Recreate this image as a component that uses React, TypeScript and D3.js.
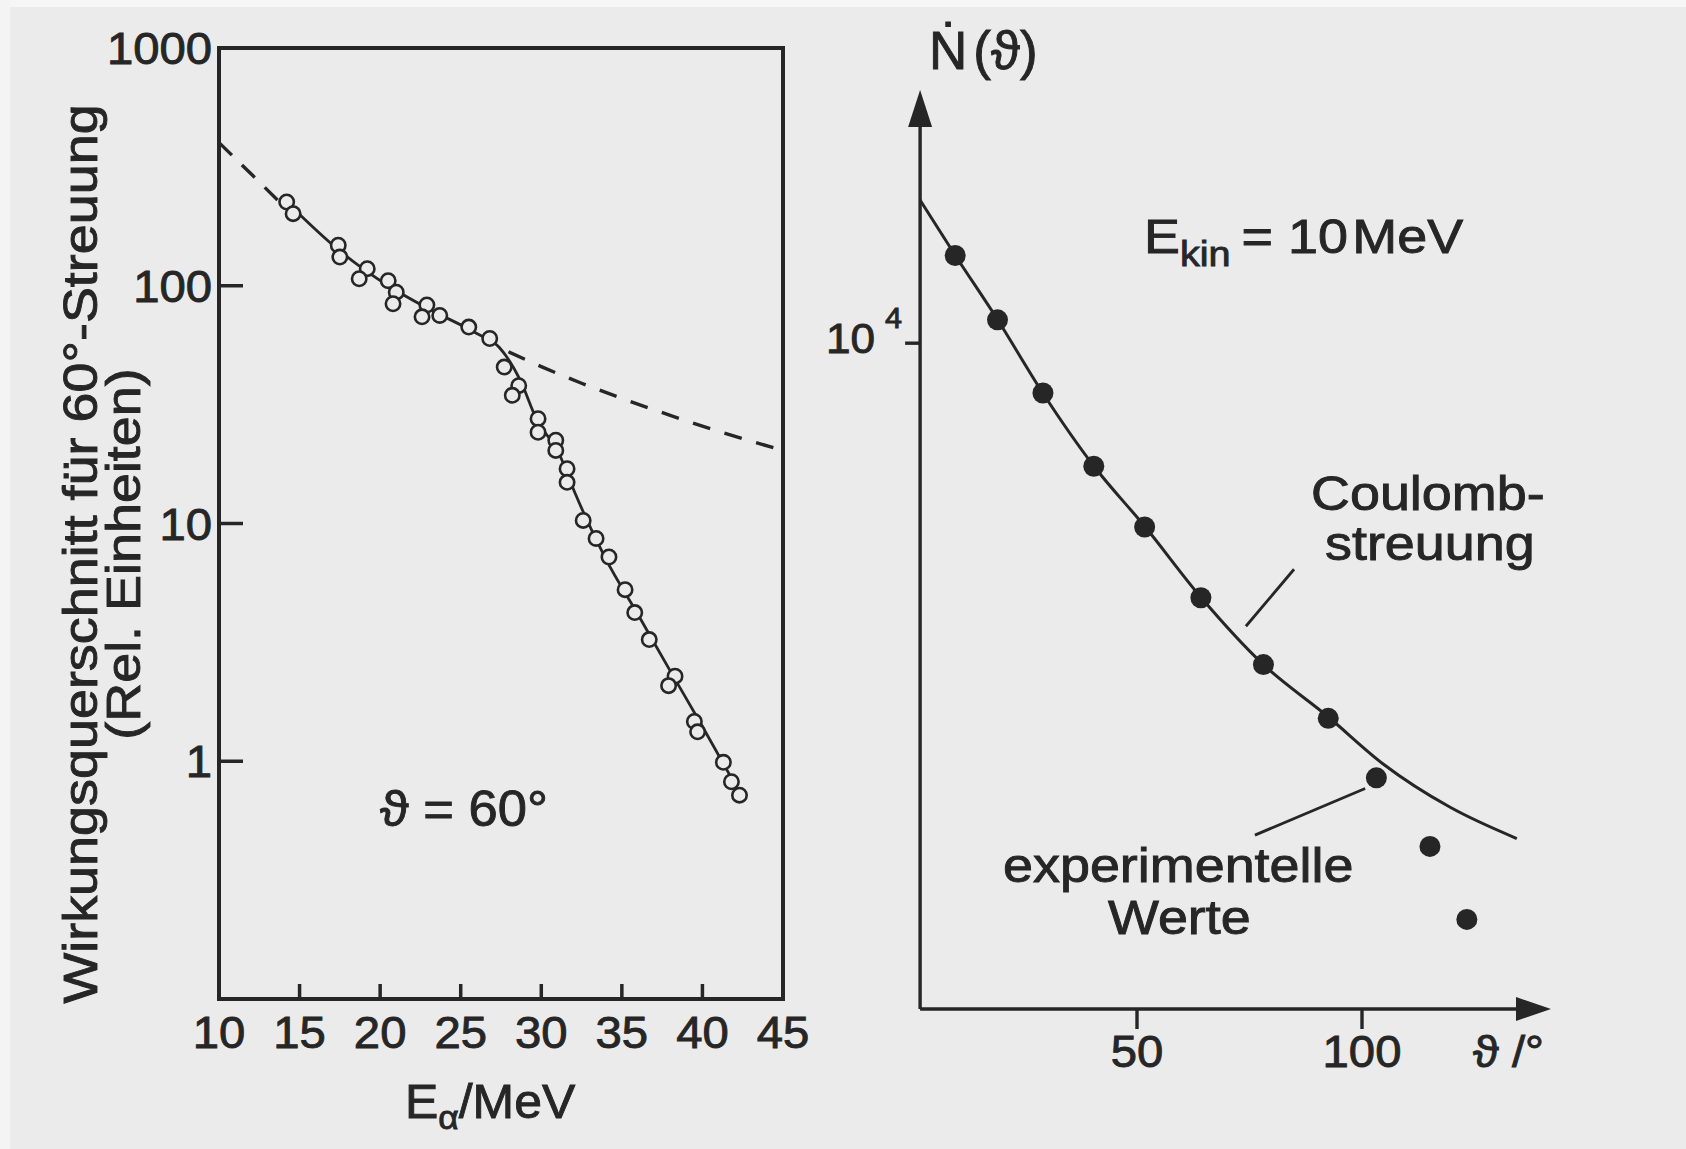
import React from "react";
import * as d3 from "d3";

// ---- Left panel: 60° alpha scattering cross-section vs. alpha energy ----
const energyMeV = [14.2, 14.6, 17.4, 17.5, 19.2, 18.7, 20.5, 21.0, 20.8, 22.9, 22.6, 23.7, 25.5, 26.8, 27.7, 28.6, 28.2, 29.8, 29.8, 30.9, 30.9, 31.6, 31.6, 32.6, 33.4, 34.2, 35.2, 35.8, 36.7, 38.3, 37.9, 39.5, 39.7, 41.3, 41.8, 42.3];
const crossSection = [225, 201, 148, 132, 118, 107, 105, 94, 84, 83, 74, 75, 67, 60, 45.5, 38, 34.6, 27.6, 24.2, 22.4, 20.3, 17.0, 14.9, 10.3, 8.65, 7.23, 5.27, 4.22, 3.25, 2.28, 2.08, 1.47, 1.33, 0.99, 0.82, 0.72];

// solid line drawn through the measurements
const fitEnergy = [14.2, 17.5, 20.5, 23, 26, 27.4, 28.7, 29.7, 31.1, 32.1, 34, 36, 38, 40, 42.4];
const fitSigma = [225, 140, 100, 80, 63, 55, 40, 27.5, 19.7, 13.4, 7.1, 4.14, 2.4, 1.4, 0.72];

// dashed Rutherford expectation (two visible pieces)
const rutherLowE = [10, 12, 14.2];
const rutherLowS = [400, 295, 210];
const rutherHighE = [27.4, 30, 32.5, 35, 38, 41, 45];
const rutherHighS = [55, 45.7, 38.9, 33.6, 28.5, 24.4, 20.3];

const energyTicks = [10, 15, 20, 25, 30, 35, 40, 45];
const sigmaTicks = [1, 10, 100, 1000];
const sigmaTickLabels = ["1", "10", "100", "1000"];

// ---- Right panel: count rate vs. scattering angle at 10 MeV ----
const thetaDeg = [9.6, 19.0, 29.1, 40.4, 51.7, 64.2, 78.1, 92.5, 103.2, 115.1, 123.3];
const countRate = [27200, 13060, 5660, 2455, 1227, 547, 255, 138, 70, 32, 13.9];

const coulombTheta = [1.8, 9.6, 19.1, 29.1, 40.4, 51.8, 64.2, 78.0, 92.4, 104.7, 119.6, 134.4];
const coulombN = [51200, 27300, 13000, 5650, 2460, 1230, 550, 256, 141, 82, 50, 35];

const thetaTicks = [50, 100];
const countTicks = [1e4];

const INK = "#262626";
const PAPER = "#ebebeb";
const FONT = "'Liberation Sans', Arial, Helvetica, sans-serif";

type TxtProps = {
  x: number;
  y: number;
  size: number;
  anchor?: "start" | "middle" | "end";
  sx?: number;
  rotate?: number;
  children: React.ReactNode;
};

function Txt({ x, y, size, anchor = "start", sx = 1.1, rotate = 0, children }: TxtProps) {
  return (
    <g transform={`translate(${x},${y}) rotate(${rotate}) scale(${sx},1)`}>
      <text
        fontSize={size}
        textAnchor={anchor}
        fill={INK}
        stroke={INK}
        strokeWidth={0.9}
        fontFamily={FONT}
      >
        {children}
      </text>
    </g>
  );
}

export default function App() {
  // left panel scales
  const xE = d3.scaleLinear().domain([10, 45]).range([219, 783]);
  const yS = d3.scaleLog().domain([0.1, 1000]).range([999, 48]);

  // right panel scales
  const xT = d3.scaleLinear().domain([0, 142]).range([912, 1551]);
  const yN = d3.scaleLog().domain([5, 1.8e5]).range([1009, 90]);
  const thetaOrigin = coulombTheta[0];

  const lineL = d3
    .line<[number, number]>()
    .x((d) => xE(d[0]))
    .y((d) => yS(d[1]))
    .curve(d3.curveMonotoneX);
  const lineR = d3
    .line<[number, number]>()
    .x((d) => xT(d[0]))
    .y((d) => yN(d[1]))
    .curve(d3.curveMonotoneX);

  const fitPath = lineL(d3.zip(fitEnergy, fitSigma) as [number, number][]);
  const dashLow = lineL(d3.zip(rutherLowE, rutherLowS) as [number, number][]);
  const dashHigh = lineL(d3.zip(rutherHighE, rutherHighS) as [number, number][]);
  const coulombPath = lineR(d3.zip(coulombTheta, coulombN) as [number, number][]);

  const [eMin, eMax] = xE.domain();
  const [sMin, sMax] = yS.domain();
  const boxX = xE(eMin);
  const boxY = yS(sMax);
  const boxW = xE(eMax) - boxX;
  const boxH = yS(sMin) - boxY;

  const axX = xT(thetaOrigin);
  const axY = yN(yN.domain()[0]);
  const arrowTopY = yN(yN.domain()[1]);
  const arrowRightX = xT(xT.domain()[1]);

  // annotation leader lines, anchored in data coordinates
  const coulombLeader = [
    [84.9, 757],
    [74.2, 395],
  ];
  const expLeader = [
    [100.7, 62],
    [76.2, 36.4],
  ];

  return (
    <svg
      width={1686}
      height={1149}
      style={{ position: "absolute", left: 0, top: 0, display: "block" }}
    >
      <rect x={0} y={0} width={1686} height={1149} fill={PAPER} />
      <rect x={0} y={0} width={1686} height={7} fill="#f6f6f6" />
      <rect x={0} y={0} width={10} height={1149} fill="#f4f4f4" />

      {/* ===== left panel ===== */}
      <rect x={boxX} y={boxY} width={boxW} height={boxH} fill="none" stroke={INK} strokeWidth={4} />

      {sigmaTicks.map((v, i) => (
        <g key={`ys${v}`}>
          {v !== sMax && (
            <line x1={boxX} x2={boxX + 24} y1={yS(v)} y2={yS(v)} stroke={INK} strokeWidth={3.5} />
          )}
          <Txt x={212} y={yS(v) + 16} size={45} anchor="end" sx={1.05}>
            {sigmaTickLabels[i]}
          </Txt>
        </g>
      ))}

      {energyTicks.map((v) => (
        <g key={`xe${v}`}>
          {v !== eMin && v !== eMax && (
            <line x1={xE(v)} x2={xE(v)} y1={boxY + boxH} y2={boxY + boxH - 15} stroke={INK} strokeWidth={3.5} />
          )}
          <Txt x={xE(v)} y={1048} size={45} anchor="middle" sx={1.05}>
            {String(v)}
          </Txt>
        </g>
      ))}

      <path d={dashLow ?? ""} fill="none" stroke={INK} strokeWidth={3.4} strokeDasharray="18 14" />
      <path d={dashHigh ?? ""} fill="none" stroke={INK} strokeWidth={3.4} strokeDasharray="18 15" strokeDashoffset={-10} />
      <path d={fitPath ?? ""} fill="none" stroke={INK} strokeWidth={2.8} />

      {energyMeV.map((e, i) => (
        <circle key={`c${i}`} cx={xE(e)} cy={yS(crossSection[i])} r={7.2} fill={PAPER} stroke={INK} strokeWidth={2.6} />
      ))}

      <Txt x={380} y={826} size={50} sx={1.05}>
        ϑ = 60°
      </Txt>

      <Txt x={97} y={554} size={49} anchor="middle" rotate={-90} sx={1.1}>
        Wirkungsquerschnitt für 60°-Streuung
      </Txt>
      <Txt x={140} y={554} size={49} anchor="middle" rotate={-90} sx={1.1}>
        (Rel. Einheiten)
      </Txt>

      <Txt x={405} y={1118} size={48} sx={1.04}>
        E
        <tspan fontSize={34} dy={11}>α</tspan>
        <tspan dy={-11}>/MeV</tspan>
      </Txt>

      {/* ===== right panel ===== */}
      <line x1={axX} x2={axX} y1={axY} y2={arrowTopY + 30} stroke={INK} strokeWidth={3.4} />
      <path
        d={`M${axX},${arrowTopY} L${axX - 12},${arrowTopY + 37} L${axX + 12},${arrowTopY + 37} Z`}
        fill={INK}
      />
      <line x1={axX} x2={arrowRightX - 28} y1={axY} y2={axY} stroke={INK} strokeWidth={3.4} />
      <path
        d={`M${arrowRightX},${axY} L${arrowRightX - 35},${axY - 12} L${arrowRightX - 35},${axY + 12} Z`}
        fill={INK}
      />

      {thetaTicks.map((v) => (
        <g key={`xt${v}`}>
          <line x1={xT(v)} x2={xT(v)} y1={axY} y2={axY + 20} stroke={INK} strokeWidth={3.4} />
          <Txt x={xT(v)} y={1067} size={45} anchor="middle" sx={1.05}>
            {String(v)}
          </Txt>
        </g>
      ))}
      <Txt x={1473} y={1067} size={45} sx={1.05}>
        ϑ /°
      </Txt>

      {countTicks.map((v) => (
        <g key={`yn${v}`}>
          <line x1={axX - 15} x2={axX} y1={yN(v)} y2={yN(v)} stroke={INK} strokeWidth={3.4} />
          <Txt x={875} y={yN(v) + 10} size={42} anchor="end" sx={1.05}>
            10
          </Txt>
          <Txt x={885} y={yN(v) - 15} size={29} sx={1.05}>
            4
          </Txt>
        </g>
      ))}

      <Txt x={929} y={69} size={53} sx={1.0}>
        Ṅ<tspan dx={6}>(ϑ)</tspan>
      </Txt>

      <path d={coulombPath ?? ""} fill="none" stroke={INK} strokeWidth={3} />

      {thetaDeg.map((t, i) => (
        <circle key={`d${i}`} cx={xT(t)} cy={yN(countRate[i])} r={10.5} fill={INK} />
      ))}

      <line
        x1={xT(coulombLeader[0][0])}
        y1={yN(coulombLeader[0][1])}
        x2={xT(coulombLeader[1][0])}
        y2={yN(coulombLeader[1][1])}
        stroke={INK}
        strokeWidth={2.8}
      />
      <line
        x1={xT(expLeader[0][0])}
        y1={yN(expLeader[0][1])}
        x2={xT(expLeader[1][0])}
        y2={yN(expLeader[1][1])}
        stroke={INK}
        strokeWidth={2.8}
      />

      <Txt x={1144} y={253} size={49} sx={1.1}>
        E<tspan fontSize={36} dy={13}>kin</tspan>
        <tspan dy={-13} dx={10}>= 10</tspan>
        <tspan dx={4}>MeV</tspan>
      </Txt>

      <Txt x={1311} y={510} size={49} sx={1.1}>
        Coulomb-
      </Txt>
      <Txt x={1325} y={560} size={49} sx={1.1}>
        streuung
      </Txt>
      <Txt x={1003} y={882} size={49} sx={1.1}>
        experimentelle
      </Txt>
      <Txt x={1108} y={934} size={49} sx={1.1}>
        Werte
      </Txt>
    </svg>
  );
}
